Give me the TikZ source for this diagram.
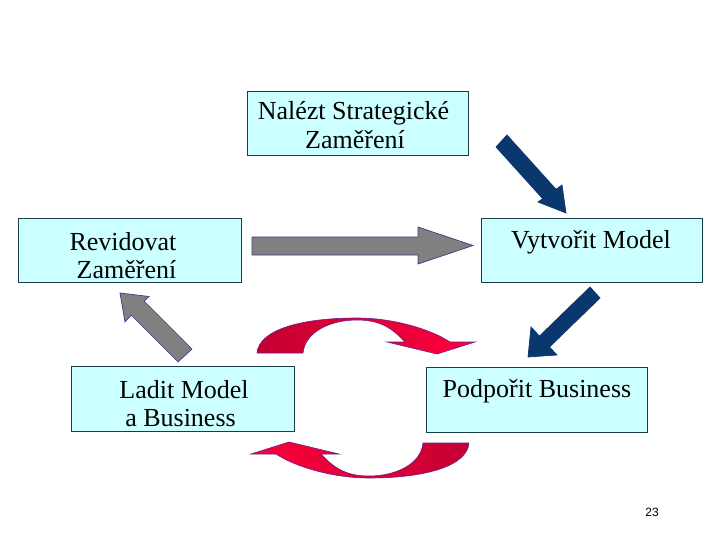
\documentclass[tikz,border=0pt]{standalone}
\usepackage{fontspec}
\setmainfont{Liberation Serif}
\newfontfamily\pgnumfont{Liberation Sans}
\definecolor{boxfill}{RGB}{204,255,255}
\definecolor{boxline}{RGB}{25,60,70}
\definecolor{arrgray}{RGB}{128,128,128}
\definecolor{arrgrayline}{RGB}{60,60,140}
\definecolor{navyarrow}{RGB}{10,55,110}
\definecolor{reddark}{RGB}{195,0,50}
\definecolor{redbright}{RGB}{255,0,60}
\definecolor{redline}{RGB}{110,30,140}
\begin{document}
\begin{tikzpicture}[x=1pt,y=-1pt,
  box/.style={draw=boxline, fill=boxfill, line width=0.8pt, rectangle, inner sep=0pt},
  txt/.style={inner sep=0pt, anchor=base, font=\fontsize{26}{30}\selectfont},
  grayarrow/.style={fill=arrgray, draw=arrgrayline, line width=0.7pt, line join=miter},
  bluearrow/.style={fill=navyarrow, draw=navyarrow, line width=0.7pt, line join=miter},
  redarrow/.style={draw=redline, line width=0.6pt, line join=miter}]
\fill[white] (0,0) rectangle (720,540);
\useasboundingbox (0,0) rectangle (720,540);

% boxes
\node[box, minimum width=221pt, minimum height=64pt] (find) at (357.5,123) {};
\node[box, minimum width=223pt, minimum height=64pt] (rev) at (129.5,250) {};
\node[box, minimum width=221pt, minimum height=64pt] (create) at (591.5,250) {};
\node[box, minimum width=223pt, minimum height=65pt] (tune) at (182.5,398.5) {};
\node[box, minimum width=221pt, minimum height=65pt] (support) at (536.5,399.5) {};

% texts
\node[txt] (find1) at (353.5,120) {Nalézt Strategické};
\node[txt] (find2) at (355,149) {Zaměření};
\node[txt] (rev1) at (123,250) {Revidovat};
\node[txt] (rev2) at (126.5,278) {Zaměření};
\node[txt] (create1) at (591,248) {Vytvořit Model};
\node[txt] (tune1) at (184,398) {Ladit Model};
\node[txt] (tune2) at (180.5,426) {a Business};
\node[txt] (support1) at (537,397) {Podpořit Business};

% gray block arrows
\draw[grayarrow] (252,237) -- (418,237) -- (418,227) -- (473,245.5) -- (418,264) -- (418,255) -- (252,255) -- cycle;
\draw[grayarrow] (178,362) -- (131.2,315.2) -- (125,322) -- (120,293) -- (149,296.5) -- (144.2,301.2) -- (192,349) -- cycle;

% blue block arrows
\draw[bluearrow] (496,147) -- (542.7,198.7) -- (538,202) -- (566,213) -- (562,185) -- (556,189.3) -- (507,135) -- cycle;
\draw[bluearrow] (590,287) -- (539.4,336.1) -- (531,327) -- (528,357) -- (557,355) -- (549.5,347) -- (600,298) -- cycle;

% red curved arrows
\draw[redarrow, left color=reddark, right color=redbright]
  (257,353) .. controls (259,330) and (300,318) .. (357,318)
  .. controls (395,318) and (432,330) .. (450,342)
  -- (475,342) -- (437,354) -- (387,342) -- (405,342)
  .. controls (392,328) and (380,320) .. (357,320)
  .. controls (330,320) and (305,332) .. (303,353) -- cycle;
\draw[redarrow, left color=redbright, right color=reddark]
  (469,443) .. controls (467,466) and (426,478) .. (369,478)
  .. controls (331,478) and (294,466) .. (276,454)
  -- (251,454) -- (289,442) -- (339,454) -- (321,454)
  .. controls (334,468) and (346,476) .. (369,476)
  .. controls (396,476) and (421,464) .. (423,443) -- cycle;

% page number
\node[inner sep=0pt, anchor=base, font=\pgnumfont\fontsize{12}{14}\selectfont] (pg) at (652,516) {23};
\end{tikzpicture}
\end{document}
